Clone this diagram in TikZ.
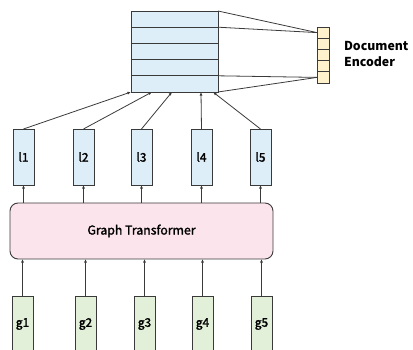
\documentclass[tikz,border=0pt]{standalone}
\usepackage{fontspec}
\setmainfont{Noto Sans CJK SC}
\newfontfamily\medfont[FakeBold=1.6]{Noto Sans CJK SC}
\usetikzlibrary{arrows.meta,calc}

\definecolor{edgegray}{HTML}{3A3A3A}
\definecolor{cellblue}{HTML}{DDEEF8}
\definecolor{cellgreen}{HTML}{E2F0D9}
\definecolor{cellyellow}{HTML}{FFF2CC}
\definecolor{boxpink}{HTML}{FCE4EC}

\tikzset{
  x=1pt, y=-1pt,
  every node/.style={inner sep=0pt, outer sep=0pt},
  cell/.style={draw=edgegray, line width=0.9pt, fill=cellblue,
    minimum width=87pt, minimum height=16.2pt},
  slot/.style={draw=edgegray, line width=0.9pt, fill=cellyellow,
    minimum width=12pt, minimum height=11.2pt},
  vecbox/.style={draw=edgegray, line width=0.9pt, fill=#1,
    minimum width=21pt, minimum height=56pt,
    font=\medfont\fontsize{12}{14}\selectfont},
  tbox/.style={draw=edgegray, line width=0.9pt, fill=boxpink,
    rounded corners=8pt, minimum width=263pt, minimum height=56pt,
    font=\medfont\fontsize{12.3}{14}\selectfont},
  link/.style={draw=edgegray, line width=0.8pt},
  arr/.style={link, -{Latex[length=3.6pt,width=3pt]}},
}

\begin{document}
\begin{tikzpicture}
\clip (0,0) rectangle (413,350);

% memory grid of the document encoder
\foreach \i/\y in {1/19.1,2/35.3,3/51.5,4/67.7,5/83.9}
  \node[cell] (r\i) at (174.5,\y) {};

% compact encoder column
\foreach \i/\y in {1/32.6,2/43.8,3/55,4/66.2,5/77.4}
  \node[slot] (c\i) at (323,\y) {};

\draw[link] (r1.north east) -- (c1.west);
\draw[link] (r1.south east) -- (c1.west);
\draw[link] (r5.north east) -- (c5.west);
\draw[link] (r5.south east) -- (c5.west);

\node[anchor=north west, align=left, font=\bfseries\fontsize{12.3}{16}\selectfont]
  (enc) at (344,41) {Document\\Encoder};

% graph transformer
\node[tbox] (gt) at (141.5,231) {Graph Transformer};

% output vectors
\foreach \i/\x in {1/23.5,2/83.5,3/141.5,4/201.5,5/260.5}
  \node[vecbox=cellblue] (l\i) at (\x,157) {l\i};

% input vectors
\foreach \i/\x in {1/22.5,2/85.5,3/144.5,4/202.5,5/261.5}
  \node[vecbox=cellgreen] (g\i) at (\x,324) {g\i};

% attachment points on the bottom edge of the grid
\foreach \i/\x in {1/131,2/152,3/172,4/201,5/213}
  \coordinate (t\i) at (\x,92);

\foreach \i in {1,...,5} {
  \draw[arr] (l\i.north) -- (t\i);
  \draw[arr] (gt.north -| l\i) -- (l\i.south);
  \draw[arr] (g\i.north) -- (g\i.north |- gt.south);
}
\end{tikzpicture}
\end{document}
